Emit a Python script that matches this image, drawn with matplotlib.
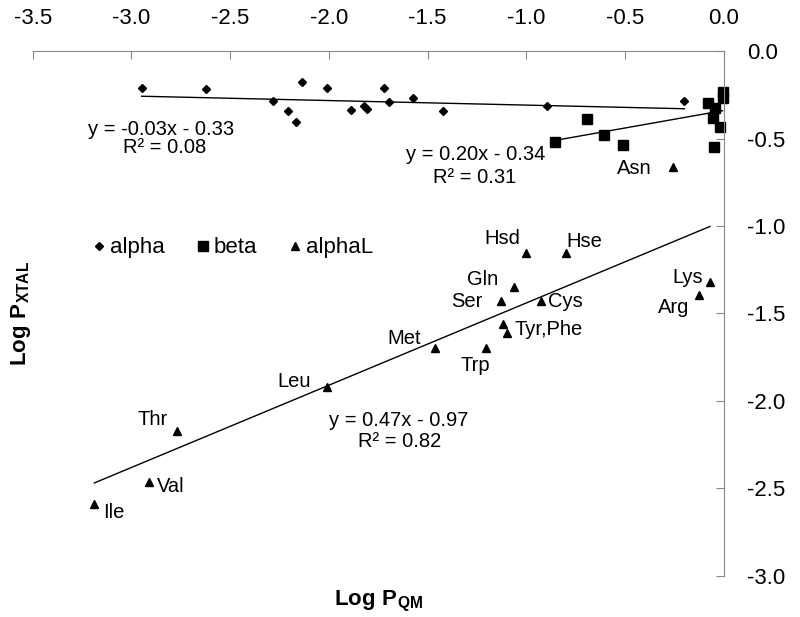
import numpy as np
import matplotlib
matplotlib.use("Agg")
import matplotlib.pyplot as plt

plt.rcParams['font.family'] = ['Liberation Sans', 'DejaVu Sans']
plt.rcParams['axes.unicode_minus'] = False
plt.rcParams['mathtext.fontset'] = 'custom'
plt.rcParams['mathtext.rm'] = 'Liberation Sans'
plt.rcParams['mathtext.bf'] = 'Liberation Sans:bold'

# alpha (diamonds)
alpha_x = [-2.948, -2.622, -2.281, -2.207, -2.166, -2.137, -2.009, -1.889, -1.822,
           -1.805, -1.720, -1.697, -1.575, -1.423, -0.896, -0.199]
alpha_y = [-0.210, -0.215, -0.287, -0.343, -0.406, -0.175, -0.213, -0.337, -0.314,
           -0.331, -0.213, -0.291, -0.270, -0.343, -0.316, -0.286]

# beta (squares)
beta_x = [-0.854, -0.690, -0.606, -0.510, -0.078, -0.044, -0.052, -0.018, -0.005, -0.005, -0.047]
beta_y = [-0.518, -0.387, -0.478, -0.539, -0.297, -0.327, -0.380, -0.433, -0.233, -0.270, -0.550]

# alphaL (triangles) with residue names
res_names = ['Ile', 'Val', 'Thr', 'Leu', 'Met', 'Trp', 'Tyr', 'Phe', 'Ser', 'Gln',
             'Cys', 'Hsd', 'Hse', 'Arg', 'Lys', 'Asn']
alphaL_x = [-3.188, -2.909, -2.771, -2.011, -1.462, -1.204, -1.119, -1.096, -1.129, -1.060,
            -0.927, -1.001, -0.798, -0.125, -0.069, -0.255]
alphaL_y = [-2.590, -2.461, -2.171, -1.918, -1.695, -1.699, -1.562, -1.613, -1.429, -1.347,
            -1.429, -1.156, -1.156, -1.394, -1.322, -0.661]

# trendline coefficients (slope, intercept)
fit_alpha = (-0.026, -0.335)
fit_beta = (0.20, -0.34)
fit_alphaL = (0.47, -0.97)

eq_texts = ['y = -0.03x - 0.33', 'R² = 0.08', 'y = 0.20x - 0.34', 'R² = 0.31',
            'y = 0.47x - 0.97', 'R² = 0.82']

# label placement: text, offset in pixels, alignment
label_pos = {
    'Ile': ('Ile', 8.7, -8.4, 'left'),
    'Val': ('Val', 8, -5, 'left'),
    'Thr': ('Thr', -8.4, 11, 'right'),
    'Leu': ('Leu', -16, 5, 'right'),
    'Met': ('Met', -14.3, 9.4, 'right'),
    'Trp': ('Trp', -11, -16.7, 'center'),
    'Phe': ('Tyr,Phe', 7.7, 3.3, 'left'),
    'Ser': ('Ser', -18, 0, 'right'),
    'Gln': ('Gln', -16, 7.4, 'right'),
    'Cys': ('Cys', 7.6, -0.7, 'left'),
    'Hsd': ('Hsd', -5.3, 15, 'right'),
    'Hse': ('Hse', 0, 11.6, 'left'),
    'Lys': ('Lys', -7.3, 4.6, 'right'),
    'Arg': ('Arg', -9.7, -12.3, 'right'),
    'Asn': ('Asn', -21.6, -1.6, 'right'),
}

fig = plt.figure(figsize=(8, 6.17), dpi=100)
ax = fig.add_axes([0.0409, 0.0665, 0.8636, 0.8508])

ax.plot(alpha_x, alpha_y, 'D', color='black', ms=4.3, label='alpha', clip_on=False)
ax.plot(beta_x, beta_y, 's', color='black', ms=6.8, label='beta', clip_on=False)
ax.plot(alphaL_x, alphaL_y, '^', color='black', ms=5.6, label='alphaL', clip_on=False)

for xs, (m, b) in [(alpha_x, fit_alpha), (beta_x, fit_beta), (alphaL_x, fit_alphaL)]:
    xx = np.array([min(xs), max(xs)])
    ax.plot(xx, m * xx + b, color='black', lw=1.0)

for name, x, y in zip(res_names, alphaL_x, alphaL_y):
    if name in label_pos:
        txt, dx, dy, ha = label_pos[name]
        ax.annotate(txt, (x, y), xytext=(dx, dy), textcoords='offset pixels',
                    ha=ha, va='center', fontsize=14.5)

ax.text(-3.219, -0.446, eq_texts[0], fontsize=14.5, ha='left', va='center')
ax.text(-3.043, -0.549, eq_texts[1], fontsize=14.5, ha='left', va='center')
ax.text(-0.905, -0.594, eq_texts[2], fontsize=14.5, ha='right', va='center')
ax.text(-1.052, -0.722, eq_texts[3], fontsize=14.5, ha='right', va='center')
ax.text(-1.997, -2.109, eq_texts[4], fontsize=14.5, ha='left', va='center')
ax.text(-1.854, -2.229, eq_texts[5], fontsize=14.5, ha='left', va='center')

ax.set_xlim(-3.5, 0.0)
ax.set_ylim(-3.0, 0.0)
ax.set_xticks(np.arange(-3.5, 0.01, 0.5))
ax.set_yticks(np.arange(-3.0, 0.01, 0.5))
ax.set_xticklabels(['%.1f' % v for v in np.arange(-3.5, 0.01, 0.5)])
ax.set_yticklabels(['%.1f' % v for v in np.arange(-3.0, 0.01, 0.5)])
ax.xaxis.tick_top()
ax.yaxis.tick_right()
ax.tick_params(axis='x', direction='in', length=5.8, width=0.8, color='#888888',
               pad=15.6, labelsize=16)
ax.tick_params(axis='y', direction='in', length=5.8, width=0.8, color='#888888',
               pad=16.8, labelsize=16)
for s in ['left', 'bottom']:
    ax.spines[s].set_visible(False)
for s in ['top', 'right']:
    ax.spines[s].set_color('#888888')
    ax.spines[s].set_linewidth(0.8)

ax.text(0.5, -0.049, r'$\mathbf{Log\ P}_{\mathbf{QM}}$', transform=ax.transAxes,
        ha='center', va='center', fontsize=16)
ax.text(-0.017, 0.5, r'$\mathbf{Log\ P}_{\mathbf{XTAL}}$', transform=ax.transAxes,
        ha='center', va='center', fontsize=16, rotation=90)

ax.legend(loc='center left', bbox_to_anchor=(0.0867, 0.6248), ncol=3, frameon=False,
          numpoints=1, fontsize=16, handlelength=0.6, handletextpad=0.2,
          columnspacing=1.4, borderpad=0, borderaxespad=0)

fig.savefig('out.png', dpi=100)
